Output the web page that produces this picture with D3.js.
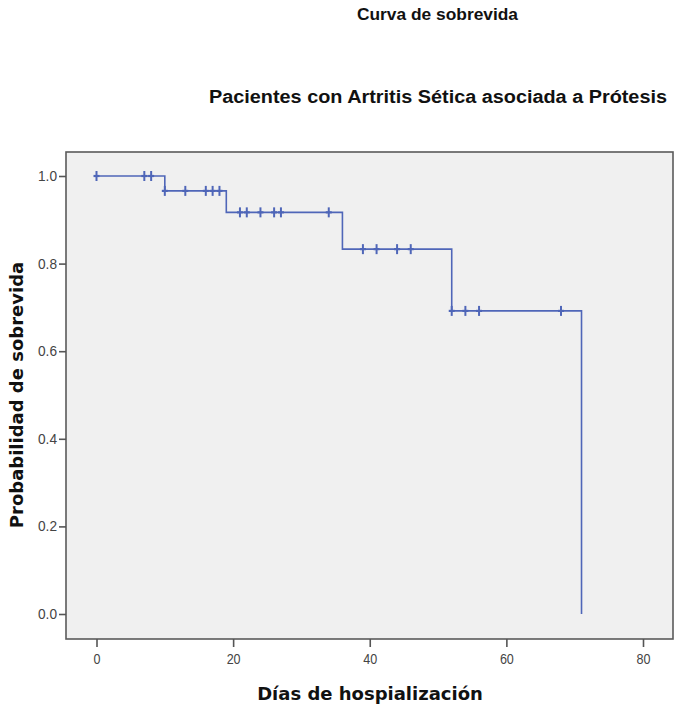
<!DOCTYPE html>
<html>
<head>
<meta charset="utf-8">
<script src="https://cdn.jsdelivr.net/npm/d3@7"></script>
<style>
  html, body { margin: 0; padding: 0; background: #fff; }
  svg { display: block; }
  text { font-family: "Liberation Sans", Arial, sans-serif; }
</style>
</head>
<body>
<div id="chart"></div>
<script>
// Kaplan-Meier curve: step times, survival after each step, censored cases
const stepTimes = [0, 10, 19, 36, 52, 71];
const survival = [1.0, 0.966, 0.917, 0.833, 0.692, 0.0];
const censorTimes = [0, 7, 8, 10, 13, 16, 17, 18, 21, 22, 24, 26, 27, 34, 39, 41, 44, 46, 52, 54, 56, 68];
const xTicks = [0, 20, 40, 60, 80];
const yTicks = [0.0, 0.2, 0.4, 0.6, 0.8, 1.0];

const W = 675, H = 709;
const frame = { left: 66, right: 673, top: 152, bottom: 639 };

const svg = d3.select('#chart').append('svg')
    .attr('width', W).attr('height', H);

const x = d3.scaleLinear().domain([0, 80]).range([96.5, 643]);
const y = d3.scaleLinear().domain([0, 1]).range([614, 176]);

// plot background + frame
svg.append('rect')
    .attr('x', frame.left).attr('y', frame.top)
    .attr('width', frame.right - frame.left)
    .attr('height', frame.bottom - frame.top)
    .attr('fill', '#f0f0f0')
    .attr('stroke', '#5a5a5a')
    .attr('stroke-width', 1.6);

// axes
const xAxis = svg.append('g')
    .attr('transform', `translate(0,${frame.bottom})`)
    .call(d3.axisBottom(x).tickValues(xTicks).tickSize(8).tickPadding(7).tickFormat(d3.format('d')));
const yAxis = svg.append('g')
    .attr('transform', `translate(${frame.left},0)`)
    .call(d3.axisLeft(y).tickValues(yTicks).tickSize(7).tickPadding(2).tickFormat(d3.format('.1f')));

[xAxis, yAxis].forEach(a => {
    a.select('.domain').remove();
    a.selectAll('.tick line').attr('stroke', '#555').attr('stroke-width', 1.6);
    a.selectAll('.tick text')
        .attr('fill', '#444')
        .style('font-size', '14px');
});
// narrow tick labels like the original
xAxis.selectAll('.tick text').attr('textLength', d => String(d).length * 7).attr('lengthAdjust', 'spacingAndGlyphs');
yAxis.selectAll('.tick text').attr('textLength', 19).attr('lengthAdjust', 'spacingAndGlyphs');

// survival step line
const pts = [];
stepTimes.forEach((t, i) => {
    if (i > 0) pts.push([t, survival[i - 1]]);
    pts.push([t, survival[i]]);
});
const line = d3.line().x(d => x(d[0])).y(d => y(d[1]));
const blue = '#4f66b8';

svg.append('path')
    .datum(pts)
    .attr('d', line)
    .attr('fill', 'none')
    .attr('stroke', blue)
    .attr('stroke-width', 1.6);

// censor marks
const survAt = t => survival[d3.bisectRight(stepTimes, t) - 1];
const cens = svg.selectAll('.censor')
    .data(censorTimes)
    .enter().append('g')
    .attr('class', 'censor')
    .attr('transform', d => `translate(${x(d)},${y(survAt(d))})`);
cens.append('line')
    .attr('y1', -5).attr('y2', 5)
    .attr('stroke', blue).attr('stroke-width', 2);
cens.append('line')
    .attr('x1', -3).attr('x2', 3)
    .attr('stroke', blue).attr('stroke-width', 2.2);

// titles
svg.append('text')
    .attr('x', 357).attr('y', 20)
    .attr('textLength', 161).attr('lengthAdjust', 'spacingAndGlyphs')
    .style('font-size', '16px').style('font-weight', 'bold')
    .attr('fill', '#111')
    .text('Curva de sobrevida');

svg.append('text')
    .attr('x', 209).attr('y', 103)
    .attr('textLength', 458).attr('lengthAdjust', 'spacingAndGlyphs')
    .style('font-size', '18px').style('font-weight', 'bold')
    .attr('fill', '#111')
    .text('Pacientes con Artritis Sética asociada a Prótesis');

svg.append('text')
    .attr('x', 370).attr('y', 700)
    .attr('text-anchor', 'middle')
    .style('font-family', '"DejaVu Sans", sans-serif')
    .style('font-size', '18px').style('font-weight', 'bold')
    .attr('fill', '#111')
    .text('Días de hospialización');

svg.append('text')
    .attr('transform', 'translate(23,395) rotate(-90)')
    .attr('text-anchor', 'middle')
    .style('font-family', '"DejaVu Sans", sans-serif')
    .style('font-size', '18px').style('font-weight', 'bold')
    .attr('fill', '#111')
    .text('Probabilidad de sobrevida');
</script>
</body>
</html>
